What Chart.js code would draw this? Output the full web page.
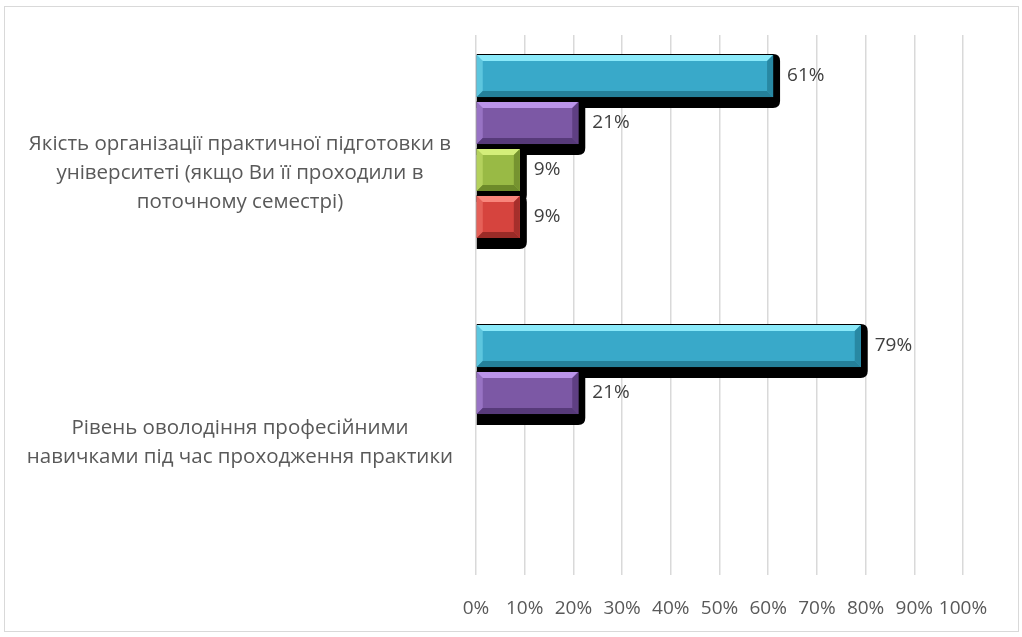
<!DOCTYPE html>
<html>
<head>
<meta charset="utf-8">
<script src="https://cdn.jsdelivr.net/npm/chart.js@4.4.1/dist/chart.umd.min.js"></script>
<style>
  body { margin: 0; background: #fff; }
  #wrap { position: relative; width: 1022px; height: 637px; }
</style>
</head>
<body>
<div id="wrap"><canvas id="chart"></canvas></div>
<script>
// categories (top to bottom)
const categories = [
    ['Якість організації практичної підготовки в', 'університеті (якщо Ви її проходили в', 'поточному семестрі)'],
    ['Рівень оволодіння професійними', 'навичками під час проходження практики']
];
// series values, %
const seriesNames = ['Відмінно', 'Добре', 'Задовільно', 'Незадовільно', 'Інше'];
const excellent = [61, 79];
const good = [21, 21];
const fair = [9, null];
const poor = [9, null];
const other = [null, null];
const tickLabels = ['0%', '10%', '20%', '30%', '40%', '50%', '60%', '70%', '80%', '90%', '100%'];

// main / light / dark shades for each series
const palette = [
    ['#39a9c9', '#8ae9f9', '#24809a'],
    ['#7c58a5', '#bb94ea', '#573a7a'],
    ['#99ba45', '#d4ee7a', '#6d8a2a'],
    ['#d6443e', '#f8857b', '#9a2b27'],
    ['#f79646', '#fbc08f', '#b86a2a']
];

function roundRect(ctx, x, y, w, h, r) {
    ctx.beginPath();
    ctx.moveTo(x, y);
    ctx.lineTo(x + w - r, y);
    ctx.quadraticCurveTo(x + w, y, x + w, y + r);
    ctx.lineTo(x + w, y + h - r);
    ctx.quadraticCurveTo(x + w, y + h, x + w - r, y + h);
    ctx.lineTo(x, y + h);
    ctx.closePath();
}

// frame around the chart
const framePlugin = {
    id: 'frame',
    beforeDraw(chart) {
        const ctx = chart.ctx;
        ctx.save();
        ctx.strokeStyle = '#d9d9d9';
        ctx.lineWidth = 1;
        ctx.strokeRect(4.5, 6.5, 1014, 625);
        ctx.restore();
    }
};

// black drop shadow under each bar
const shadowPlugin = {
    id: 'barShadow',
    beforeDatasetsDraw(chart) {
        const ctx = chart.ctx;
        ctx.save();
        ctx.fillStyle = '#000';
        chart.data.datasets.forEach((ds, i) => {
            const meta = chart.getDatasetMeta(i);
            meta.data.forEach((bar, j) => {
                if (ds.data[j] == null) return;
                const p = bar.getProps(['x', 'y', 'base', 'height'], true);
                const top = p.y - p.height / 2;
                roundRect(ctx, p.base, top - 1, p.x - p.base + 7, p.height + 12, 7);
                ctx.fill();
            });
        });
        ctx.restore();
    }
};

// bevel effect + value labels
const bevelPlugin = {
    id: 'bevel',
    afterDatasetsDraw(chart) {
        const ctx = chart.ctx;
        ctx.save();
        chart.data.datasets.forEach((ds, i) => {
            const meta = chart.getDatasetMeta(i);
            const c = palette[i];
            meta.data.forEach((bar, j) => {
                if (ds.data[j] == null) return;
                const p = bar.getProps(['x', 'y', 'base', 'height'], true);
                const x0 = p.base, x1 = p.x;
                const y0 = p.y - p.height / 2, y1 = p.y + p.height / 2;
                const b = 6;
                ctx.fillStyle = c[0];
                ctx.fillRect(x0, y0, x1 - x0, y1 - y0);
                // top bevel
                ctx.fillStyle = c[1];
                ctx.beginPath();
                ctx.moveTo(x0, y0); ctx.lineTo(x1, y0); ctx.lineTo(x1 - b, y0 + b); ctx.lineTo(x0 + b, y0 + b);
                ctx.closePath(); ctx.fill();
                // left bevel
                ctx.globalAlpha = 0.45;
                ctx.beginPath();
                ctx.moveTo(x0, y0); ctx.lineTo(x0 + b, y0 + b); ctx.lineTo(x0 + b, y1 - b); ctx.lineTo(x0, y1);
                ctx.closePath(); ctx.fill();
                ctx.globalAlpha = 1;
                // bottom bevel
                ctx.fillStyle = c[2];
                ctx.beginPath();
                ctx.moveTo(x0, y1); ctx.lineTo(x1, y1); ctx.lineTo(x1 - b, y1 - b); ctx.lineTo(x0 + b, y1 - b);
                ctx.closePath(); ctx.fill();
                // right bevel
                ctx.globalAlpha = 0.8;
                ctx.beginPath();
                ctx.moveTo(x1, y0); ctx.lineTo(x1, y1); ctx.lineTo(x1 - b, y1 - b); ctx.lineTo(x1 - b, y0 + b);
                ctx.closePath(); ctx.fill();
                ctx.globalAlpha = 1;
                // value label
                ctx.fillStyle = '#404040';
                ctx.font = '19px "Open Sans"';
                ctx.textAlign = 'left';
                ctx.textBaseline = 'middle';
                ctx.fillText(ds.data[j] + '%', x1 + 14, p.y);
            });
        });
        ctx.restore();
    }
};

const allSeries = [excellent, good, fair, poor, other];

new Chart(document.getElementById('chart'), {
    type: 'bar',
    data: {
        labels: categories,
        datasets: allSeries.map((vals, i) => ({
            label: seriesNames[i],
            data: vals,
            backgroundColor: palette[i][0],
            borderWidth: 0,
            categoryPercentage: 0.87,
            barPercentage: 0.894
        }))
    },
    options: {
        indexAxis: 'y',
        responsive: true,
        maintainAspectRatio: false,
        animation: false,
        events: [],
        layout: { padding: { top: 35, right: 59, left: 0, bottom: 0 } },
        plugins: {
            legend: { display: false },
            tooltip: { enabled: false }
        },
        scales: {
            x: {
                min: 0,
                max: 100,
                border: { display: false },
                grid: { color: '#d9d9d9', lineWidth: 1.5, drawTicks: false },
                afterFit(scale) {
                    scale.height = 62;
                    scale.paddingLeft = 0;
                    scale.paddingRight = 0;
                },
                afterBuildTicks(scale) {
                    scale.ticks = tickLabels.map((t, k) => ({ value: k * 10 }));
                },
                ticks: {
                    padding: 22,
                    maxRotation: 0,
                    minRotation: 0,
                    autoSkip: false,
                    color: '#595959',
                    font: { family: 'Open Sans', size: 19 },
                    callback: (v, k) => tickLabels[k]
                }
            },
            y: {
                border: { display: false },
                grid: { display: false, drawTicks: false },
                afterFit(scale) {
                    scale.width = 476;
                    scale.paddingTop = 0;
                    scale.paddingBottom = 0;
                },
                ticks: {
                    crossAlign: 'center',
                    padding: 23,
                    labelOffset: 3,
                    color: '#595959',
                    font: { family: 'Open Sans', size: 20.5, lineHeight: 29 / 20.5 }
                }
            }
        }
    },
    plugins: [framePlugin, shadowPlugin, bevelPlugin]
});
</script>
</body>
</html>
